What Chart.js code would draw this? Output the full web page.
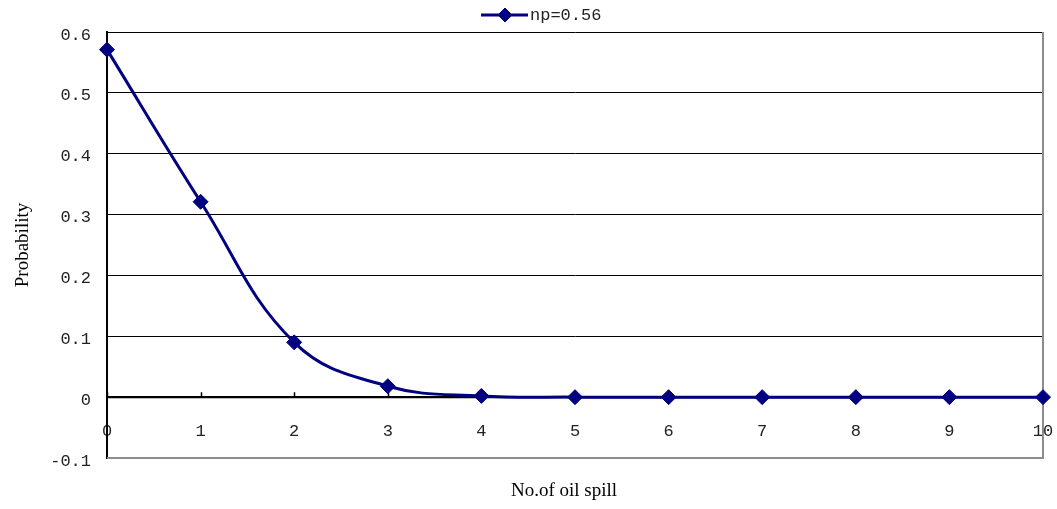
<!DOCTYPE html>
<html>
<head>
<meta charset="utf-8">
<title>Probability of oil spills</title>
<script src="https://cdn.jsdelivr.net/npm/chart.js@4/dist/chart.umd.min.js"></script>
<style>
  html, body { margin: 0; padding: 0; background: #ffffff; }
  #wrap { width: 1057px; height: 509px; }
</style>
</head>
<body>
<div id="wrap"><canvas id="chart" width="1057" height="509"></canvas></div>
<script>
// Number of oil spills and their probability
const spillCounts = [0, 1, 2, 3, 4, 5, 6, 7, 8, 9, 10];
const probability = [0.571, 0.321, 0.09, 0.018, 0.002, 0, 0, 0, 0, 0, 0];
const seriesLabel = 'np=0.56';
const xTickLabels = ['0', '1', '2', '3', '4', '5', '6', '7', '8', '9', '10'];
const yTickLabels = ['-0.1', '0', '0.1', '0.2', '0.3', '0.4', '0.5', '0.6'];
const xTitle = 'No.of oil spill';
const yTitle = 'Probability';

const NAVY = '#000080';
const tickFont = { family: '"Liberation Mono", "DejaVu Sans Mono", monospace', size: 17 };
const titleFont = { family: '"Liberation Serif", "DejaVu Serif", serif', size: 19 };

function drawDiamond(ctx, x, y, r) {
  ctx.beginPath();
  ctx.moveTo(x - r, y);
  ctx.lineTo(x, y - r);
  ctx.lineTo(x + r, y);
  ctx.lineTo(x, y + r);
  ctx.closePath();
  ctx.fillStyle = NAVY;
  ctx.fill();
  ctx.lineWidth = 1;
  ctx.strokeStyle = NAVY;
  ctx.stroke();
}

// Frame, upward tick marks, x-axis title and the legend
const decorations = {
  id: 'decorations',
  beforeDatasetsDraw(chart) {
    const { ctx, chartArea: a, scales: { x, y } } = chart;
    ctx.save();
    // grey plot frame on the right and bottom
    ctx.strokeStyle = '#8c8c8c';
    ctx.lineWidth = 2;
    ctx.beginPath();
    ctx.moveTo(a.right, a.top);
    ctx.lineTo(a.right, a.bottom);
    ctx.lineTo(a.left, a.bottom);
    ctx.stroke();
    // x axis at zero redrawn on top of the frame
    const y0 = y.getPixelForValue(0);
    ctx.strokeStyle = '#000';
    ctx.lineWidth = 2;
    ctx.beginPath();
    ctx.moveTo(a.left, y0);
    ctx.lineTo(a.right, y0);
    ctx.stroke();
    // small tick marks pointing up from the x axis
    ctx.lineWidth = 1.5;
    ctx.beginPath();
    spillCounts.forEach(v => {
      const px = Math.round(x.getPixelForValue(v)) + 0.5;
      ctx.moveTo(px, y0);
      ctx.lineTo(px, y0 - 5);
    });
    ctx.stroke();
    ctx.restore();
  },
  afterDraw(chart) {
    const { ctx } = chart;
    ctx.save();
    // x-axis title
    ctx.font = `${titleFont.size}px ${titleFont.family}`;
    ctx.fillStyle = '#000';
    ctx.textAlign = 'center';
    ctx.textBaseline = 'middle';
    ctx.fillText(xTitle, 564, 491);
    // legend: line sample with a diamond, then the series name
    ctx.strokeStyle = NAVY;
    ctx.lineWidth = 3;
    ctx.beginPath();
    ctx.moveTo(481, 15);
    ctx.lineTo(528, 15);
    ctx.stroke();
    drawDiamond(ctx, 505, 15, 7);
    ctx.font = `${tickFont.size}px ${tickFont.family}`;
    ctx.fillStyle = '#222';
    ctx.textAlign = 'left';
    ctx.fillText(seriesLabel, 530, 15);
    ctx.restore();
  }
};

new Chart(document.getElementById('chart'), {
  type: 'line',
  data: {
    datasets: [{
      label: seriesLabel,
      data: spillCounts.map((c, i) => ({ x: c, y: probability[i] })),
      borderColor: NAVY,
      backgroundColor: NAVY,
      borderWidth: 3,
      tension: 0.4,
      pointStyle: 'rectRot',
      pointRadius: 7.5,
      pointHoverRadius: 7.5,
      pointBorderWidth: 1,
      pointBorderColor: NAVY,
      pointBackgroundColor: NAVY,
      clip: false
    }]
  },
  options: {
    responsive: false,
    animation: false,
    devicePixelRatio: 1,
    layout: { padding: { top: 32, right: 14, bottom: 51, left: 0 } },
    plugins: {
      legend: { display: false },
      tooltip: { enabled: false }
    },
    scales: {
      x: {
        type: 'linear',
        position: { y: 0 },
        min: 0,
        max: 10,
        offset: false,
        afterFit(scale) {
          scale.paddingLeft = 0;
          scale.paddingRight = 0;
          scale.paddingTop = 0;
          scale.paddingBottom = 0;
        },
        grid: { drawOnChartArea: false, drawTicks: false },
        border: { display: true, color: '#000', width: 2 },
        ticks: {
          stepSize: 1,
          padding: 24,
          color: '#222',
          font: tickFont,
          maxRotation: 0,
          callback: (v, i) => xTickLabels[i]
        }
      },
      y: {
        position: 'left',
        min: -0.1,
        max: 0.6,
        afterFit(scale) {
          scale.width = 107;
          scale.paddingTop = 0;
          scale.paddingBottom = 0;
        },
        grid: {
          drawTicks: false,
          lineWidth: 1,
          color: ctx => (ctx.index === 0 ? '#8c8c8c' : '#000')
        },
        border: { display: true, color: '#000', width: 2 },
        ticks: {
          stepSize: 0.1,
          padding: 16,
          labelOffset: 3,
          color: '#222',
          font: tickFont,
          callback: (v, i) => yTickLabels[i]
        },
        title: {
          display: true,
          text: yTitle,
          color: '#000',
          font: titleFont,
          padding: { top: 12, bottom: 0 }
        }
      }
    }
  },
  plugins: [decorations]
});
</script>
</body>
</html>
